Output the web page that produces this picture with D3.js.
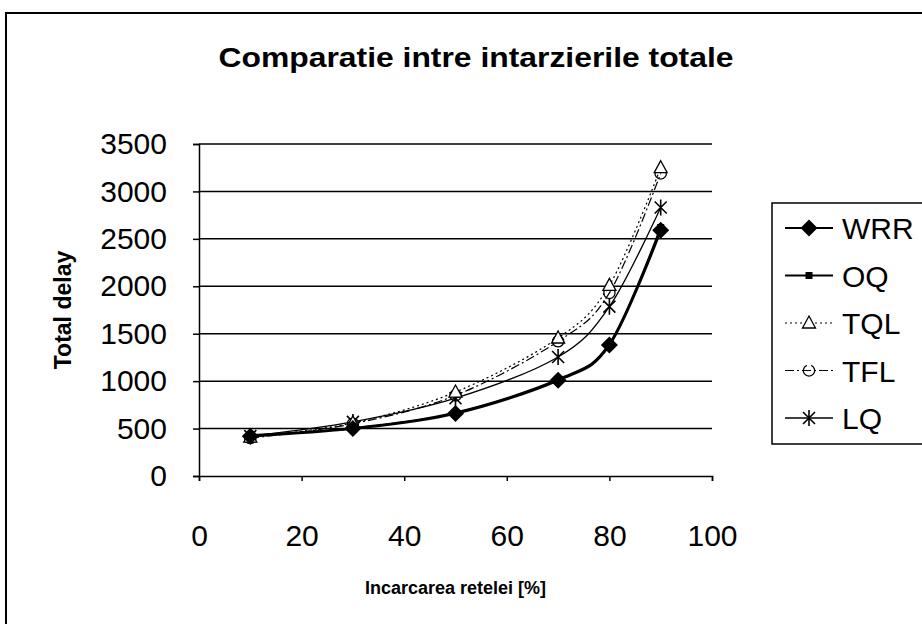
<!DOCTYPE html>
<html>
<head>
<meta charset="utf-8">
<script src="https://cdn.jsdelivr.net/npm/d3@7"></script>
<style>
  html, body { margin: 0; padding: 0; background: #fff; }
  svg { display: block; font-family: "Liberation Sans", Arial, sans-serif; }
</style>
</head>
<body>
<svg id="chart" width="922" height="624"></svg>
<script>
// ---- data ----
const loads = [10, 30, 50, 70, 80, 90];
const wrr = [420, 500, 660, 1010, 1380, 2590];
const oq  = [430, 505, 670, 1020, 1395, 2620];
const tql = [410, 560, 885, 1455, 2010, 3250];
const tfl = [400, 550, 850, 1420, 1930, 3190];
const lq  = [420, 570, 820, 1255, 1785, 2830];
const seriesNames = ["WRR", "OQ", "TQL", "TFL", "LQ"];
const xTicks = [0, 20, 40, 60, 80, 100];
const yTicks = [0, 500, 1000, 1500, 2000, 2500, 3000, 3500];
const titleText = "Comparatie intre intarzierile totale";
const xTitle = "Incarcarea retelei [%]";
const yTitle = "Total delay";

const svg = d3.select("#chart");
const plot = { left: 199, right: 712, top: 144, bottom: 476 };

const x = d3.scaleLinear().domain([0, 100]).range([plot.left, plot.right]);
const y = d3.scaleLinear().domain([0, 3500]).range([plot.bottom, plot.top]);

// outer chart border (left & top visible)
svg.append("path")
  .attr("d", "M6,624 L6,13 L922,13")
  .attr("fill", "none").attr("stroke", "#000").attr("stroke-width", 2);

// title
svg.append("text")
  .attr("x", 476).attr("y", 67)
  .attr("text-anchor", "middle")
  .attr("font-weight", "bold").attr("font-size", 28)
  .attr("textLength", 515).attr("lengthAdjust", "spacingAndGlyphs")
  .text(titleText);

// gridlines
svg.append("g").selectAll("line").data(yTicks.filter(d => d > 0)).join("line")
  .attr("x1", plot.left).attr("x2", plot.right)
  .attr("y1", d => y(d)).attr("y2", d => y(d))
  .attr("stroke", "#000").attr("stroke-width", 1.5);

// y axis
const yAxis = svg.append("g")
  .attr("transform", `translate(${plot.left},0)`)
  .call(d3.axisLeft(y).tickValues(yTicks).tickSize(6).tickPadding(26).tickFormat(d3.format("d")));
yAxis.select(".domain").attr("stroke-width", 1.5);
yAxis.selectAll(".tick line").attr("stroke-width", 1.5);
yAxis.selectAll("text").attr("font-size", 30).attr("font-family", "Liberation Sans, Arial, sans-serif").attr("fill", "#000");

// x axis
const xAxis = svg.append("g")
  .attr("transform", `translate(0,${plot.bottom})`)
  .call(d3.axisBottom(x).tickValues(xTicks).tickSize(5).tickPadding(42));
xAxis.select(".domain").attr("stroke-width", 1.5);
xAxis.selectAll(".tick line").attr("stroke-width", 1.5);
xAxis.selectAll("text").attr("font-size", 30).attr("font-family", "Liberation Sans, Arial, sans-serif").attr("fill", "#000").attr("dy", "0").attr("y", 70);

// axis titles
svg.append("text")
  .attr("x", (plot.left + plot.right) / 2).attr("y", 594)
  .attr("text-anchor", "middle").attr("font-weight", "bold").attr("font-size", 18)
  .text(xTitle);
svg.append("text")
  .attr("transform", "translate(71,310) rotate(-90)")
  .attr("text-anchor", "middle").attr("font-weight", "bold").attr("font-size", 23)
  .text(yTitle);

// markers
const markers = {
  WRR: g => g.append("path").attr("d", "M0,-8.5 L8.5,0 L0,8.5 L-8.5,0 Z").attr("fill", "#000"),
  OQ:  g => g.append("rect").attr("x", -3.5).attr("y", -3.5).attr("width", 7).attr("height", 7).attr("fill", "#000"),
  TQL: g => g.append("path").attr("d", "M0,-7 L6.5,5 L-6.5,5 Z").attr("fill", "#fff").attr("stroke", "#000").attr("stroke-width", 1.3),
  TFL: g => g.append("path").attr("d", d3.arc()({innerRadius: 5, outerRadius: 6.3, startAngle: 0.4, endAngle: 2 * Math.PI - 0.4})).attr("fill", "#000"),
  LQ:  g => g.append("path").attr("d", "M-6,-6 L6,6 M6,-6 L-6,6 M0,-8 L0,8").attr("stroke", "#000").attr("stroke-width", 1.6).attr("fill", "none")
};

const series = [
  { name: "WRR", values: wrr, width: 2.6, dash: null },
  { name: "OQ",  values: oq,  width: 2.0, dash: null },
  { name: "TQL", values: tql, width: 1.2, dash: "2,3" },
  { name: "TFL", values: tfl, width: 1.2, dash: "9,3,2,3" },
  { name: "LQ",  values: lq,  width: 1.3, dash: null }
];

const line = d3.line()
  .x(d => x(d[0])).y(d => y(d[1]))
  .curve(d3.curveCatmullRom.alpha(0));

const gSeries = svg.append("g");
series.forEach(s => {
  const pts = loads.map((l, i) => [l, s.values[i]]);
  gSeries.append("path")
    .attr("d", line(pts))
    .attr("fill", "none").attr("stroke", "#000")
    .attr("stroke-width", s.width)
    .attr("stroke-dasharray", s.dash);
});
series.slice().reverse().forEach(s => {
  loads.forEach((l, i) => {
    const g = gSeries.append("g").attr("transform", `translate(${x(l)},${y(s.values[i])})`);
    markers[s.name](g);
  });
});

// legend
const leg = svg.append("g");
leg.append("rect")
  .attr("x", 772).attr("y", 203).attr("width", 200).attr("height", 241)
  .attr("fill", "#fff").attr("stroke", "#000").attr("stroke-width", 1.5);
series.forEach((s, i) => {
  const cy = 228 + i * 47.5;
  leg.append("line")
    .attr("x1", 785).attr("x2", 833).attr("y1", cy).attr("y2", cy)
    .attr("stroke", "#000").attr("stroke-width", Math.min(s.width, 2))
    .attr("stroke-dasharray", s.dash);
  const g = leg.append("g").attr("transform", `translate(809,${cy})`);
  markers[s.name](g);
  leg.append("text")
    .attr("x", 842).attr("y", cy + 11)
    .attr("font-size", 30)
    .text(s.name);
});
</script>
</body>
</html>
